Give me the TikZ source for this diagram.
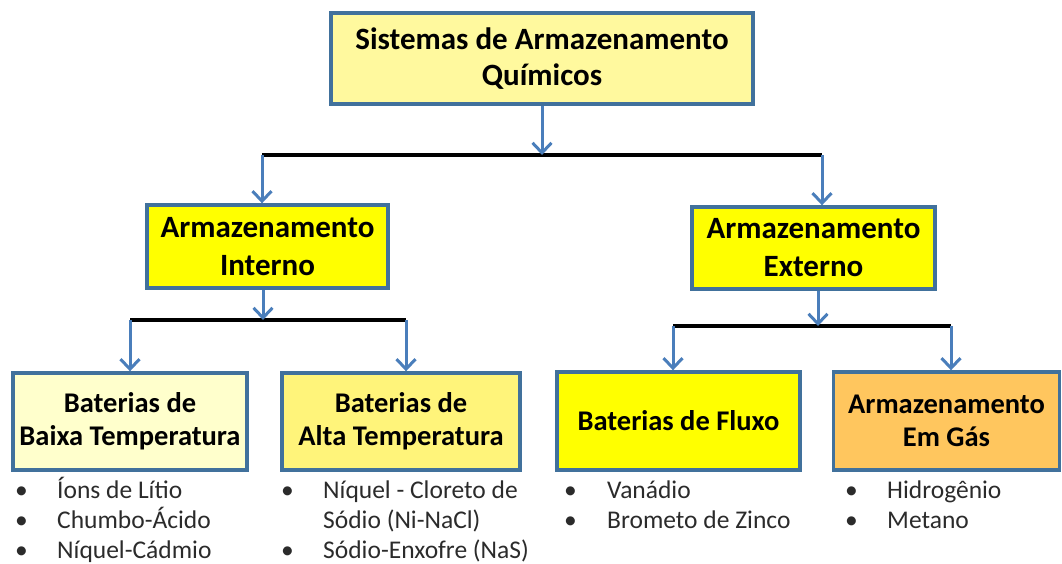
\documentclass[tikz,border=0pt]{standalone}
\usepackage{fontspec}
\setmainfont{Carlito}
\usetikzlibrary{arrows.meta}
\definecolor{bordblue}{HTML}{41719C}
\definecolor{arrblue}{HTML}{4A7EBB}
\definecolor{paleyel}{HTML}{FFF99E}
\definecolor{lightyel}{HTML}{FFFFCC}
\definecolor{midyel}{HTML}{FFF47A}
\definecolor{pureyel}{HTML}{FFFF00}
\definecolor{orangeg}{HTML}{FFC65E}
\definecolor{txtgray}{HTML}{2B2B2B}
\tikzset{
  box/.style={draw=bordblue, line width=3.4pt, align=center, inner sep=2pt,
    font=\fontsize{28.5}{33}\selectfont\bfseries},
  midbox/.style={box, font=\fontsize{31}{38}\selectfont\bfseries},
  flow/.style={draw=arrblue, line width=3pt, -{Straight Barb[length=10pt,width=19pt,line width=3pt]}},
  bar/.style={draw=black, line width=3.2pt},
  lst/.style={anchor=north west, inner sep=0pt, text=txtgray,
    font=\fontsize{25.5}{30}\selectfont, align=left}
}
\begin{document}
\begin{tikzpicture}[x=1pt,y=-1pt]
\useasboundingbox (0,0) rectangle (1062,563);
% boxes
\node[box, fill=paleyel, minimum width=422, minimum height=91,
  font=\fontsize{31}{36}\selectfont\bfseries] (top) at (542,58.5) {Sistemas de Armazenamento\\Químicos};
\node[midbox, fill=pureyel, minimum width=241, minimum height=83] (int) at (267.5,246.5) {Armazenamento\\Interno};
\node[midbox, fill=pureyel, minimum width=243, minimum height=82] (ext) at (813.5,248) {Armazenamento\\Externo};
\node[box, fill=lightyel, minimum width=234, minimum height=97] (baixa) at (130,421.5) {Baterias de\\Baixa Temperatura};
\node[box, fill=midyel, minimum width=238, minimum height=97] (alta) at (401,421.5) {Baterias de\\Alta Temperatura};
\node[box, fill=pureyel, minimum width=243, minimum height=98] (fluxo) at (678.5,421) {Baterias de Fluxo};
\node[box, fill=orangeg, minimum width=226, minimum height=98] (gas) at (946.5,421) {Armazenamento\\Em Gás};
% junction coordinates
\coordinate (j1) at (542,155);
\coordinate (l1) at (262,155);
\coordinate (r1) at (822,155);
\coordinate (j2) at (263,320);
\coordinate (l2) at (130,320);
\coordinate (r2) at (406,320);
\coordinate (j3) at (818,326);
\coordinate (l3) at (673,326);
\coordinate (r3) at (951,326);
% bars
\draw[bar] (l1) -- (r1);
\draw[bar] (l2) -- (r2);
\draw[bar] (l3) -- (r3);
% arrows
\draw[flow] (top.south -| j1) -- (j1);
\draw[flow] (l1) -- (l1 |- int.north);
\draw[flow] (r1) -- (r1 |- ext.north);
\draw[flow] (int.south -| j2) -- (j2);
\draw[flow] (l2) -- (l2 |- baixa.north);
\draw[flow] (r2) -- (r2 |- alta.north);
\draw[flow] (ext.south -| j3) -- (j3);
\draw[flow] (l3) -- (l3 |- fluxo.north);
\draw[flow] (r3) -- (r3 |- gas.north);
% lists
\node[lst] (lb) at (15,477) {\begin{tabular}{@{}p{42pt}@{}l@{}}
\textbullet & Íons de Lítio\\
\textbullet & Chumbo-Ácido\\
\textbullet & Níquel-Cádmio
\end{tabular}};
\node[lst] (la) at (281,477) {\begin{tabular}{@{}p{42pt}@{}l@{}}
\textbullet & Níquel - Cloreto de\\
 & Sódio (Ni-NaCl)\\
\textbullet & Sódio-Enxofre (NaS)
\end{tabular}};
\node[lst] (lf) at (564,477) {\begin{tabular}{@{}p{43pt}@{}l@{}}
\textbullet & Vanádio\\
\textbullet & Brometo de Zinco
\end{tabular}};
\node[lst] (lg) at (845,477) {\begin{tabular}{@{}p{42pt}@{}l@{}}
\textbullet & Hidrogênio\\
\textbullet & Metano
\end{tabular}};
\end{tikzpicture}
\end{document}
